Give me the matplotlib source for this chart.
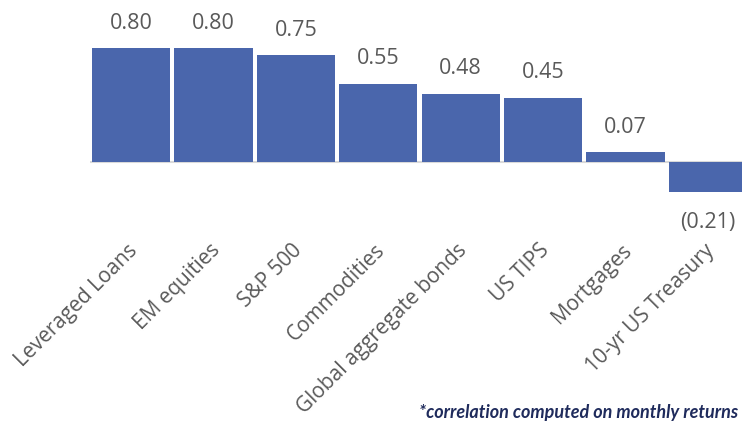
import matplotlib.pyplot as plt
import matplotlib.transforms as mtransforms

categories = ["Leveraged Loans", "EM equities", "S&P 500", "Commodities",
              "Global aggregate bonds", "US TIPS", "Mortgages", "10-yr US Treasury"]
correlation = [0.80, 0.80, 0.75, 0.55, 0.48, 0.45, 0.07, -0.21]
value_labels = ["0.80", "0.80", "0.75", "0.55", "0.48", "0.45", "0.07", "(0.21)"]

bar_color = "#4A66AC"
text_gray = "#595959"

plt.rcParams["font.family"] = ["Open Sans", "DejaVu Sans"]

fig = plt.figure(figsize=(7.42, 4.23), dpi=100)
ax = fig.add_axes([90 / 742, 223 / 423, 652 / 742, 200 / 423])

x = list(range(len(categories)))
ax.bar(x, correlation, width=0.95, color=bar_color, zorder=2)
ax.axhline(0, color="#D9D9D9", lw=1.5, zorder=1)

ax.set_xlim(-0.5, 7.415)
ax.set_ylim(-0.267, 1.137)
ax.axis("off")

# value labels above positive bars, below negative ones
for i, (v, lab) in enumerate(zip(correlation, value_labels)):
    if v >= 0:
        ax.text(i, v + 0.175, lab, ha="center", va="center", fontsize=15.5, color=text_gray)
    else:
        ax.text(i, v - 0.215, lab, ha="center", va="center", fontsize=15.5, color=text_gray)

# rotated category labels
trans = mtransforms.blended_transform_factory(ax.transData, ax.transAxes)
for i, name in enumerate(categories):
    ax.text(i - 0.05, -0.2, name, transform=trans, rotation=45, rotation_mode="anchor",
            ha="right", va="top", fontsize=15, color=text_gray, clip_on=False)

fig.text(738 / 742, 2 / 423, "*correlation computed on monthly returns", ha="right", va="bottom",
         fontsize=13, fontweight="bold", fontstyle="italic", color="#1F2B5C",
         family=["Lato", "DejaVu Sans"])

fig.savefig("out.png", dpi=100)
